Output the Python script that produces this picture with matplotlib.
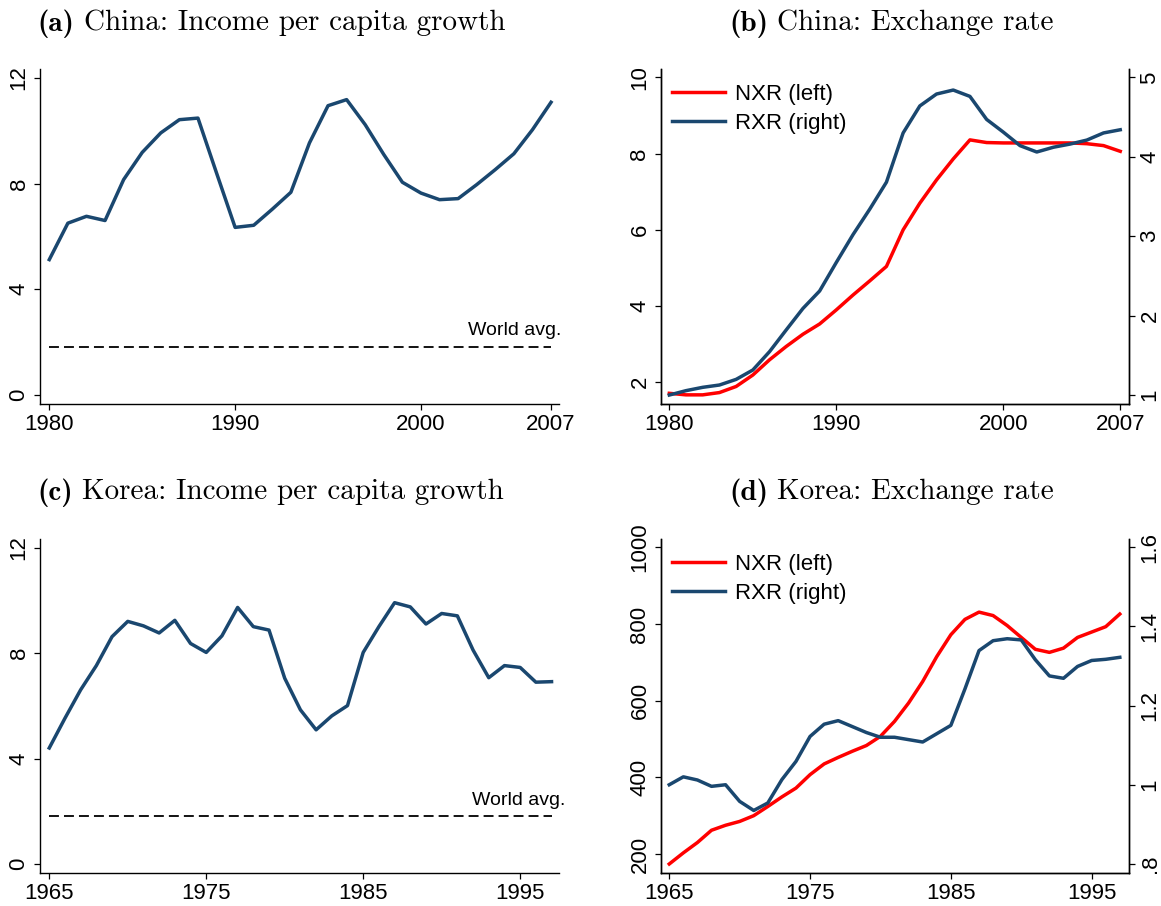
import numpy as np
import matplotlib.pyplot as plt

# ---- data ----
china_years = list(range(1980, 2008))
china_growth = [5.12, 6.50, 6.76, 6.60, 8.15, 9.18, 9.92, 10.42, 10.48, 8.40,
                6.34, 6.42, 7.03, 7.67, 9.54, 10.95, 11.18, 10.23, 9.10, 8.05,
                7.64, 7.39, 7.43, 7.96, 8.53, 9.13, 10.04, 11.08]
china_nxr = [1.71, 1.67, 1.67, 1.73, 1.89, 2.19, 2.59, 2.94, 3.26, 3.53,
             3.90, 4.29, 4.66, 5.04, 6.00, 6.70, 7.31, 7.86, 8.36, 8.29,
             8.28, 8.28, 8.28, 8.28, 8.28, 8.26, 8.21, 8.06]
china_rxr = [1.00, 1.055, 1.097, 1.126, 1.197, 1.315, 1.546, 1.82, 2.09, 2.31,
             2.67, 3.02, 3.34, 3.68, 4.30, 4.64, 4.79, 4.84, 4.76, 4.47,
             4.31, 4.14, 4.06, 4.12, 4.16, 4.21, 4.30, 4.34]

korea_years = list(range(1965, 1998))
korea_growth = [4.40, 5.53, 6.61, 7.53, 8.63, 9.21, 9.04, 8.77, 9.25, 8.37,
                8.03, 8.66, 9.74, 9.01, 8.88, 7.05, 5.85, 5.09, 5.62, 6.01,
                8.03, 9.01, 9.92, 9.76, 9.11, 9.51, 9.42, 8.12, 7.07, 7.53,
                7.46, 6.90, 6.92]
korea_nxr = [174, 203, 230, 262, 275, 285, 300, 324, 349, 372,
             407, 435, 452, 468, 483, 507, 546, 594, 650, 715,
             772, 812, 831, 822, 796, 765, 734, 726, 737, 765,
             779, 793, 826]
korea_rxr = [1.00, 1.02, 1.012, 0.996, 1.00, 0.958, 0.935, 0.954, 1.013, 1.059,
             1.122, 1.153, 1.162, 1.147, 1.132, 1.12, 1.12, 1.114, 1.108, 1.129,
             1.15, 1.242, 1.339, 1.364, 1.369, 1.366, 1.316, 1.275, 1.269, 1.299,
             1.314, 1.317, 1.322]

world_avg = 1.81

panel_tags = ["(a)", "(b)", "(c)", "(d)"]
titles = ["China: Income per capita growth", "China: Exchange rate",
          "Korea: Income per capita growth", "Korea: Exchange rate"]

NAVY = "#1a476f"
RED = "#ff0000"
TICK_FS = 16

plt.rcParams["font.family"] = "Liberation Sans"

W, H = 1161, 906
fig = plt.figure(figsize=(W / 100, H / 100), dpi=100)


def px_axes(l, t, r, b):
    return fig.add_axes([l / W, 1 - b / H, (r - l) / W, (b - t) / H])


def style(ax, right=False):
    ax.spines["top"].set_visible(False)
    if not right:
        ax.spines["right"].set_visible(False)
    for s in ax.spines.values():
        s.set_linewidth(1.0)
    ax.tick_params(length=4.5, width=0.9, labelsize=TICK_FS, pad=3)
    ax.tick_params(axis="y", labelrotation=90)
    for lab in ax.get_yticklabels():
        lab.set_va("center")


def growth_panel(ax, years, growth, xt, xlim, label_x):
    ax.plot(years, growth, color=NAVY, lw=2.5)
    ax.plot([years[0], years[-1]], [world_avg, world_avg], color="black",
            lw=1.3, ls=(0, (5.5, 2.8)))
    ax.text(label_x, 2.1, "World avg.", ha="right", va="bottom", fontsize=14)
    ax.set_xlim(xlim)
    ax.set_ylim(-0.35, 12.34)
    ax.set_xticks(xt)
    ax.set_yticks([0, 4, 8, 12])
    style(ax)


def xr_panel(ax, years, nxr, rxr, xt, xlim, ylim1, yt1, ylim2, yt2, fmt2):
    l1, = ax.plot(years, nxr, color=RED, lw=2.5)
    ax.set_xlim(xlim)
    ax.set_ylim(ylim1)
    ax.set_xticks(xt)
    ax.set_yticks(yt1)
    style(ax, right=True)
    ax2 = ax.twinx()
    l2, = ax2.plot(years, rxr, color=NAVY, lw=2.5)
    ax2.set_ylim(ylim2)
    ax2.set_yticks(yt2)
    ax2.set_yticklabels(fmt2)
    style(ax2, right=True)
    for lab in ax2.get_yticklabels():
        lab.set_va("center")
    ax.legend([l1, l2], ["NXR (left)", "RXR (right)"], loc="upper left",
              bbox_to_anchor=(0.0, 0.988), frameon=False, fontsize=16,
              handlelength=2.37, handletextpad=0.45, labelspacing=0.34,
              borderaxespad=0.25, borderpad=0.25)


ax_a = px_axes(40, 69, 559.4, 404)
growth_panel(ax_a, china_years, china_growth, [1980, 1990, 2000, 2007],
             (1979.5, 2007.45), 2007.55)

ax_b = px_axes(660.8, 69, 1129.1, 404)
xr_panel(ax_b, china_years, china_nxr, china_rxr, [1980, 1990, 2000, 2007],
         (1979.49, 2007.53), (1.43, 10.22), [2, 4, 6, 8, 10],
         (0.887, 5.105), [1, 2, 3, 4, 5], ["1", "2", "3", "4", "5"])

ax_c = px_axes(40, 539, 559.4, 873)
growth_panel(ax_c, korea_years, korea_growth, [1965, 1975, 1985, 1995],
             (1964.41, 1997.5), 1997.9)

ax_d = px_axes(660.8, 539, 1129.1, 873)
xr_panel(ax_d, korea_years, korea_nxr, korea_rxr, [1965, 1975, 1985, 1995],
         (1964.4, 1997.66), (150.5, 1021.7), [200, 400, 600, 800, 1000],
         (0.777, 1.621), [0.8, 1.0, 1.2, 1.4, 1.6], [".8", "1", "1.2", "1.4", "1.6"])

# panel titles: bold tag in cmb10, rest in cmr10
title_pos = [(37.7, 20), (729, 20), (37.7, 489), (729, 489)]
renderer = fig.canvas.get_renderer()
for tag, t, (x, y) in zip(panel_tags, titles, title_pos):
    tt = fig.text(x / W, 1 - y / H, tag, ha="left", va="center_baseline",
                  fontsize=21, family="cmb10")
    bb = tt.get_window_extent(renderer)
    fig.text((bb.x1 + 9) / W, 1 - y / H, t, ha="left", va="center_baseline",
             fontsize=21, family="cmr10")

fig.savefig("out.png", dpi=100)
